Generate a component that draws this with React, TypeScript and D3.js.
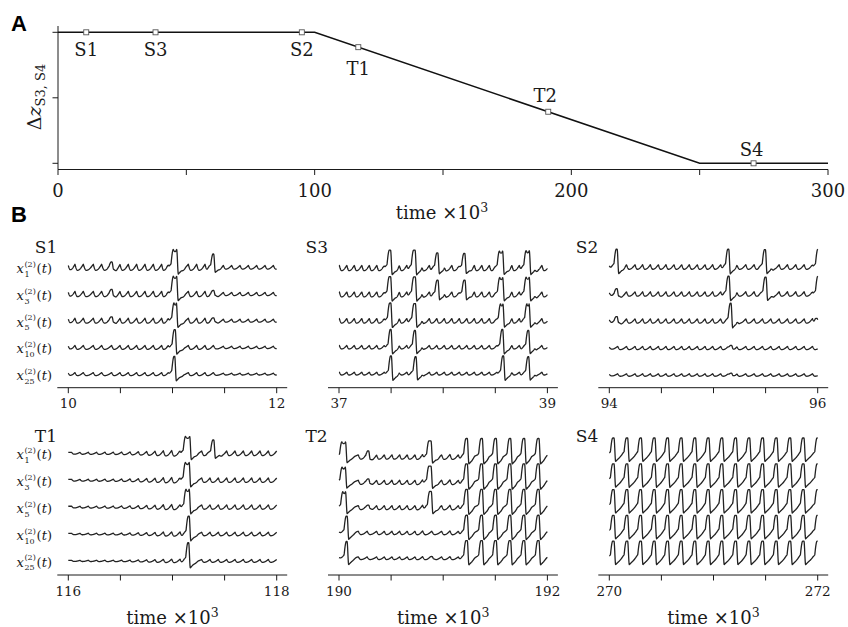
import React from 'react';
import * as d3 from 'd3';

// ---------- Panel A data ----------
const A_TIME = [0, 100, 250, 300];
const A_DZ = [2, 2, 0, 0];
const A_X_TICKS = [0, 50, 100, 150, 200, 250, 300];
const A_X_LABELS = [0, 100, 200, 300];
const A_Y_TICKS = [0, 1, 2];
const A_MARK_NAMES = ['S1', 'S3', 'S2', 'T1', 'T2', 'S4'];
const A_MARK_T = [11, 38, 95, 117, 191, 271];
const A_MARK_DZ = [2, 2, 2, 1.773, 0.787, 0];

// ---------- Panel B data ----------
const TRACE_IDX = ['1', '3', '5', '10', '25'];
const PANEL_NAMES = ['S1', 'S3', 'S2', 'T1', 'T2', 'S4'];
const PANEL_START = [10, 37, 94, 116, 190, 270];
const PANEL_END = [12, 39, 96, 118, 192, 272];
const B_TICK_STEP = 0.5;

type Bump = [number, number];
type Spike = [number, number, number, number]; // time, height, top width, double top

// S1
const S1_BUMPS: Bump[] = [[10.0, 0.6], [10.064, 1], [10.144, 1], [10.24, 1], [10.32, 1], [10.416, 1], [10.496, 1], [10.576, 1], [10.656, 1], [10.736, 1], [10.816, 1], [10.896, 1], [10.96, 1], [11.04, 1], [11.152, 1], [11.232, 1], [11.312, 1], [11.392, 1], [11.488, 0.6], [11.568, 0.6], [11.648, 0.6], [11.728, 0.6], [11.808, 0.6], [11.888, 0.6], [11.968, 0.6]];
const S1_AMP = [0.34, 0.3, 0.28, 0.22, 0.17];
const S1_SPIKES: Spike[][] = [
  [[10.416, 0.3, 0, 0], [11.024, 1.0, 0.032, 1], [11.392, 0.75, 0.006, 0]],
  [[10.416, 0.26, 0, 0], [11.024, 1.0, 0.03, 1], [11.392, 0.2, 0, 0]],
  [[10.416, 0.22, 0, 0], [11.026, 1.0, 0.022, 1], [11.392, 0.16, 0, 0]],
  [[11.022, 1.0, 0.008, 0]],
  [[11.018, 1.0, 0.004, 0]],
];

// S3
const S3_BUMPS: Bump[] = [[37.003, 1], [37.075, 1], [37.147, 1], [37.219, 1], [37.291, 1], [37.363, 1], [37.435, 1], [37.507, 1], [37.579, 1], [37.651, 1], [37.723, 1], [37.795, 1], [37.867, 1], [37.939, 1], [38.011, 1], [38.083, 1], [38.155, 1], [38.227, 1], [38.299, 1], [38.371, 1], [38.443, 1], [38.515, 1], [38.587, 1], [38.659, 1], [38.731, 1], [38.803, 1], [38.875, 1], [38.947, 1]];
const S3_AMP = [0.3, 0.28, 0.26, 0.2, 0.16];
const S3_SPIKES: Spike[][] = [
  [[37.489, 1.0, 0.012, 0], [37.723, 1.0, 0.014, 0], [37.944, 0.85, 0.008, 0], [38.203, 0.82, 0.008, 0], [38.555, 0.95, 0.03, 1], [38.811, 0.97, 0.03, 1]],
  [[37.489, 1.0, 0.012, 0], [37.725, 0.98, 0.014, 0], [37.946, 0.8, 0.008, 0], [38.205, 0.8, 0.008, 0], [38.557, 0.95, 0.028, 1], [38.811, 0.97, 0.028, 1]],
  [[37.492, 1.0, 0.01, 0], [37.727, 0.97, 0.012, 0], [38.562, 0.95, 0.022, 1], [38.814, 0.95, 0.02, 1]],
  [[37.496, 1.0, 0.006, 0], [37.729, 0.95, 0.006, 0], [38.568, 1.0, 0.006, 0], [38.817, 0.95, 0.006, 0]],
  [[37.499, 1.0, 0.004, 0], [37.736, 0.95, 0.004, 0], [38.576, 1.0, 0.004, 0], [38.817, 0.95, 0.004, 0]],
];

// S2
const S2_BUMPS: Bump[] = [[94.0, 0.5], [94.08, 1], [94.165, 1], [94.247, 1], [94.32, 1], [94.394, 1], [94.471, 1], [94.544, 1], [94.621, 1], [94.695, 1], [94.768, 1], [94.845, 1], [94.919, 1], [94.992, 1], [95.069, 1], [95.145, 1], [95.225, 1], [95.31, 1], [95.39, 1], [95.47, 1], [95.55, 1], [95.63, 1], [95.71, 1], [95.79, 1], [95.87, 1], [95.95, 1]];
const S2_AMP = [0.26, 0.25, 0.24, 0.18, 0.14];
const S2_SPIKES: Spike[][] = [
  [[94.071, 1.0, 0.008, 0], [95.142, 1.0, 0.008, 0], [95.494, 0.98, 0.008, 0], [96.005, 1.0, 0.008, 0]],
  [[94.071, 0.3, 0, 0], [95.145, 1.0, 0.008, 0], [95.5, 0.95, 0.008, 0], [96.005, 1.0, 0.008, 0]],
  [[94.071, 0.25, 0, 0], [95.165, 1.0, 0.006, 0], [95.99, 0.15, 0, 0]],
  [[95.17, 0.15, 0, 0]],
  [[95.17, 0.1, 0, 0]],
];

// T1
const T1_BUMPS: Bump[] = [[116.032, 0.4], [116.112, 0.4], [116.192, 0.45], [116.272, 0.45], [116.352, 0.5], [116.432, 0.5], [116.512, 0.55], [116.592, 0.6], [116.672, 0.7], [116.752, 0.8], [116.832, 0.9], [116.912, 1.1], [116.992, 1.2], [117.072, 1.2], [117.15, 1], [117.28, 1], [117.36, 1], [117.44, 1], [117.52, 1], [117.6, 1], [117.68, 1], [117.76, 1], [117.84, 1], [117.92, 1], [118.0, 1]];
const T1_AMP = [0.26, 0.25, 0.24, 0.2, 0.16];
const T1_SPIKES: Spike[][] = [
  [[117.145, 0.95, 0.04, 1], [117.392, 0.75, 0.008, 0]],
  [[117.142, 1.0, 0.035, 1]],
  [[117.145, 1.0, 0.03, 1]],
  [[117.156, 1.0, 0.008, 0]],
  [[117.152, 1.03, 0.004, 0]],
];

// T2
const T2_BUMPS: Bump[] = [[190.0, 0.5], [190.185, 1], [190.27, 1], [190.361, 1], [190.435, 1], [190.508, 1], [190.582, 1], [190.655, 1], [190.729, 1], [190.802, 1.2], [190.89, 1], [190.985, 1], [191.065, 1.2], [191.145, 1]];
const T2_AMP = [0.26, 0.25, 0.24, 0.2, 0.16];
const T2_SPIKES: Spike[][] = [
  [[190.045, 0.9, 0.035, 1], [190.281, 0.37, 0, 0], [190.873, 0.96, 0.02, 0]],
  [[190.045, 0.9, 0.03, 1], [190.281, 0.2, 0, 0], [190.873, 0.96, 0.02, 0]],
  [[190.05, 0.95, 0.025, 1], [190.281, 0.15, 0, 0], [190.878, 0.96, 0.015, 0]],
  [[190.074, 1.0, 0.008, 0]],
  [[190.074, 1.0, 0.005, 0], [190.89, 0.1, 0, 0]],
];
const T2_BURST_T = [191.225, 191.369, 191.503, 191.641, 191.775, 191.913];
const T2_BURST_H = [1.1, 1.1, 1.08, 1.05, 1.05];

// S4
const S4_BUMPS: Bump[] = [];
const S4_AMP = [0, 0, 0, 0, 0];
const S4_SPIKE_T = [270.039, 270.17, 270.301, 270.432, 270.56, 270.691, 270.822, 270.95, 271.081, 271.213, 271.341, 271.472, 271.603, 271.734, 271.862, 272.0];
const S4_SPIKE_H = [1.0, 1.0, 1.0, 1.0, 1.0];

// ---------- waveform helpers ----------
function bumpValue(t: number, bumps: Bump[]): number {
  const n = bumps.length;
  if (!n) return 0;
  if (t <= bumps[0][0]) return bumps[0][1] / 2;
  let i = 0;
  while (i < n - 1 && bumps[i + 1][0] <= t) i++;
  const t0 = bumps[i][0], a0 = bumps[i][1];
  let t1: number, a1: number;
  if (i < n - 1) { t1 = bumps[i + 1][0]; a1 = bumps[i + 1][1]; }
  else {
    const L = n > 1 ? bumps[n - 1][0] - bumps[n - 2][0] : 0.08;
    t1 = t0 + L; a1 = a0;
    if (t > t1) return a0 / 2;
  }
  const L = t1 - t0, u = (t - t0) / L;
  const trough = -(a0 + a1) / 4;
  if (u < 0.3) { const x = u / 0.3; return a0 / 2 - (a0 / 2 - trough) * Math.sin(x * Math.PI / 2); }
  const x = (u - 0.3) / 0.7;
  return trough + (a1 / 2 - trough) * (1 - Math.cos(x * Math.PI / 2));
}

function spikeValue(tau: number, Hh: number, w: number, dbl: number): number {
  const hw = Math.max(w, 0.006) / 2;
  const preS = -hw - 0.072, fastS = -hw - 0.022, fallE = hw + 0.016, recE = fallE + 0.075;
  const D = 0.38 * Hh;
  if (tau <= preS || tau >= recE) return 0;
  if (tau < fastS) { const x = (tau - preS) / (fastS - preS); return 0.2 * Hh * x * x; }
  if (tau < -hw) { const x = (tau - fastS) / (-hw - fastS); return 0.2 * Hh + 0.8 * Hh * Math.sin(x * Math.PI / 2); }
  if (tau <= hw) { const x = (tau + hw) / (2 * hw); return dbl ? Hh * (1 - 0.12 * Math.sin(Math.PI * x)) : Hh; }
  if (tau < fallE) { const x = (tau - hw) / (fallE - hw); return Hh - (Hh + D) * (0.5 - 0.5 * Math.cos(Math.PI * x)); }
  const x = (tau - fallE) / (recE - fallE);
  return -D * Math.pow(1 - x, 1.3);
}

function maskValue(t: number, s: Spike): number {
  const [t0, Hh, w] = s;
  const hw = Math.max(w, 0.006) / 2;
  let a: number, b: number, r: number;
  if (Hh < 0.5) { a = t0 - 0.015; b = t0 + 0.02; r = 0.025; }
  else { a = t0 - hw - 0.035; b = t0 + hw + 0.045; r = 0.03; }
  if (t >= a && t <= b) return 1;
  if (t < a) return Math.max(0, 1 - (a - t) / r);
  return Math.max(0, 1 - (t - b) / r);
}

function traceSeries(start: number, end: number, bumps: Bump[], amp: number, spikes: Spike[]): [number, number][] {
  const out: [number, number][] = [];
  const dt = 0.002;
  const n = Math.round((end - start) / dt);
  for (let j = 0; j <= n; j++) {
    const t = start + j * dt;
    let m = 0, s = 0;
    for (const sp of spikes) {
      m = Math.max(m, maskValue(t, sp));
      s += spikeValue(t - sp[0], sp[1], sp[2], sp[3]);
    }
    out.push([t, bumpValue(t, bumps) * amp * (1 - m) + s]);
  }
  return out;
}

const FONT = '"DejaVu Serif", serif';
const INK = '#1a1a1a';

const PANEL_LAYOUT = [
  { col: 0, row: 0, y1: 267.3, sp: 26.7, k: 17.8 },
  { col: 1, row: 0, y1: 268, sp: 26.4, k: 17.8 },
  { col: 2, row: 0, y1: 267, sp: 27, k: 17.8 },
  { col: 0, row: 1, y1: 453.3, sp: 26.9, k: 17.8 },
  { col: 1, row: 1, y1: 457, sp: 25.3, k: 16.8 },
  { col: 2, row: 1, y1: 455, sp: 25.8, k: 17 },
];
const COL_X0 = [68.3, 339, 609.3];
const COL_W = 208.4;
const ROW_SPINE = [387.7, 575];
const ROW_TITLE = [253, 441.7];

function panelSpikes(p: number): Spike[][] {
  if (p === 0) return S1_SPIKES;
  if (p === 1) return S3_SPIKES;
  if (p === 2) return S2_SPIKES;
  if (p === 3) return T1_SPIKES;
  if (p === 4) return T2_SPIKES.map((arr, i) => arr.concat(T2_BURST_T.map((t) => [t, T2_BURST_H[i], 0.012, 0] as Spike)));
  return S4_SPIKE_H.map((h) => S4_SPIKE_T.map((t) => [t, h, 0.012, 0] as Spike));
}
const PANEL_BUMPS = [S1_BUMPS, S3_BUMPS, S2_BUMPS, T1_BUMPS, T2_BUMPS, S4_BUMPS];
const PANEL_AMP = [S1_AMP, S3_AMP, S2_AMP, T1_AMP, T2_AMP, S4_AMP];

function PanelA() {
  const x = d3.scaleLinear().domain([0, 300]).range([58, 828]);
  const y = d3.scaleLinear().domain([0, 2]).range([163.3, 32.3]);
  const line = d3.line<number>().x((_, i) => x(A_TIME[i])).y((d) => y(d));
  const labelOff: Record<string, [number, number]> = {
    S1: [0, 24], S3: [0, 24], S2: [0, 24], T1: [0, 28], T2: [-3, -10], S4: [-2, -7],
  };
  return (
    <g>
      <text x={11} y={31} fontFamily='"Liberation Sans", Arial, sans-serif' fontWeight="bold" fontSize={22} fill="#000">A</text>
      <line x1={58} x2={58} y1={26} y2={169.5} stroke={INK} strokeWidth={1} />
      <line x1={58} x2={828} y1={169.5} y2={169.5} stroke={INK} strokeWidth={1} />
      {A_Y_TICKS.map((t) => (
        <line key={'yt' + t} x1={52.5} x2={58} y1={y(t)} y2={y(t)} stroke={INK} strokeWidth={1} />
      ))}
      {A_X_TICKS.map((t) => (
        <line key={'xt' + t} x1={x(t)} x2={x(t)} y1={169.5} y2={175} stroke={INK} strokeWidth={1} />
      ))}
      {A_X_LABELS.map((t) => (
        <text key={'xl' + t} x={x(t)} y={196.5} textAnchor="middle" fontFamily={FONT} fontSize={18} fill={INK}>{t}</text>
      ))}
      <text x={442} y={219} textAnchor="middle" fontFamily={FONT} fontSize={18} fill={INK}>
        time ×10<tspan fontSize={12.5} dy={-7}>3</tspan>
      </text>
      <text transform="translate(41,97) rotate(-90)" textAnchor="middle" fontFamily={FONT} fontSize={19} fill={INK}>
        Δ<tspan fontStyle="italic">z</tspan><tspan fontSize={13} dy={4}>S3, S4</tspan>
      </text>
      <path d={line(A_DZ) || ''} fill="none" stroke="#111" strokeWidth={1.5} />
      {A_MARK_NAMES.map((nm, i) => (
        <g key={nm}>
          <rect x={x(A_MARK_T[i]) - 2.5} y={y(A_MARK_DZ[i]) - 2.5} width={5} height={5} fill="#fff" stroke="#555" strokeWidth={0.9} />
          <text x={x(A_MARK_T[i]) + labelOff[nm][0]} y={y(A_MARK_DZ[i]) + labelOff[nm][1]} textAnchor="middle" fontFamily={FONT} fontSize={18} fill={INK}>{nm}</text>
        </g>
      ))}
    </g>
  );
}

function TraceLabel({ idx, y }: { idx: string; y: number }) {
  return (
    <g fontFamily={FONT} fill={INK}>
      <text x={16.5} y={y + 6} fontSize={13} fontStyle="italic">x</text>
      <text x={24.5} y={y - 0.5} fontSize={8}>(2)</text>
      <text x={24.5} y={y + 9.5} fontSize={8}>{idx}</text>
      <text x={52} y={y + 6} fontSize={13} textAnchor="end">(<tspan fontStyle="italic">t</tspan>)</text>
    </g>
  );
}

function PanelB() {
  return (
    <g>
      <text x={11} y={222} fontFamily='"Liberation Sans", Arial, sans-serif' fontWeight="bold" fontSize={22} fill="#000">B</text>
      {PANEL_NAMES.map((nm, p) => {
        const L = PANEL_LAYOUT[p];
        const x0 = COL_X0[L.col];
        const x = d3.scaleLinear().domain([PANEL_START[p], PANEL_END[p]]).range([x0, x0 + COL_W]);
        const spine = ROW_SPINE[L.row];
        const ticks = d3.range(PANEL_START[p], PANEL_END[p] + 1e-9, B_TICK_STEP);
        const spikes = panelSpikes(p);
        return (
          <g key={nm}>
            <text x={x0 - 33.5} y={ROW_TITLE[L.row]} fontFamily={FONT} fontSize={17} fill={INK}>{nm}</text>
            <line x1={x0 - 11} x2={x0 + COL_W + 10.5} y1={spine} y2={spine} stroke={INK} strokeWidth={1} />
            {ticks.map((t) => (
              <line key={t} x1={x(t)} x2={x(t)} y1={spine} y2={spine + 5.5} stroke={INK} strokeWidth={1} />
            ))}
            {[PANEL_START[p], PANEL_END[p]].map((t) => (
              <text key={'l' + t} x={x(t)} y={spine + 20.5} textAnchor="middle" fontFamily={FONT} fontSize={13.5} fill={INK}>{t}</text>
            ))}
            {L.row === 1 && (
              <text x={x0 + COL_W / 2} y={624} textAnchor="middle" fontFamily={FONT} fontSize={18} fill={INK}>
                time ×10<tspan fontSize={12.5} dy={-7}>3</tspan>
              </text>
            )}
            {TRACE_IDX.map((idx, i) => {
              const rest = L.y1 + i * L.sp;
              const y = d3.scaleLinear().domain([0, 1]).range([rest, rest - L.k]);
              const data = traceSeries(PANEL_START[p], PANEL_END[p], PANEL_BUMPS[p], PANEL_AMP[p][i], spikes[i]);
              const line = d3.line<[number, number]>().x((d) => x(d[0])).y((d) => y(d[1]));
              return (
                <g key={idx}>
                  <path d={line(data) || ''} fill="none" stroke="#222" strokeWidth={1.3} strokeLinejoin="round" />
                  {L.col === 0 && <TraceLabel idx={idx} y={rest} />}
                </g>
              );
            })}
          </g>
        );
      })}
    </g>
  );
}

export default function App() {
  return (
    <svg width={848} height={627} style={{ position: 'absolute', left: 0, top: 0, background: '#fff' }}>
      <rect width={848} height={627} fill="#fff" />
      <PanelA />
      <PanelB />
    </svg>
  );
}
